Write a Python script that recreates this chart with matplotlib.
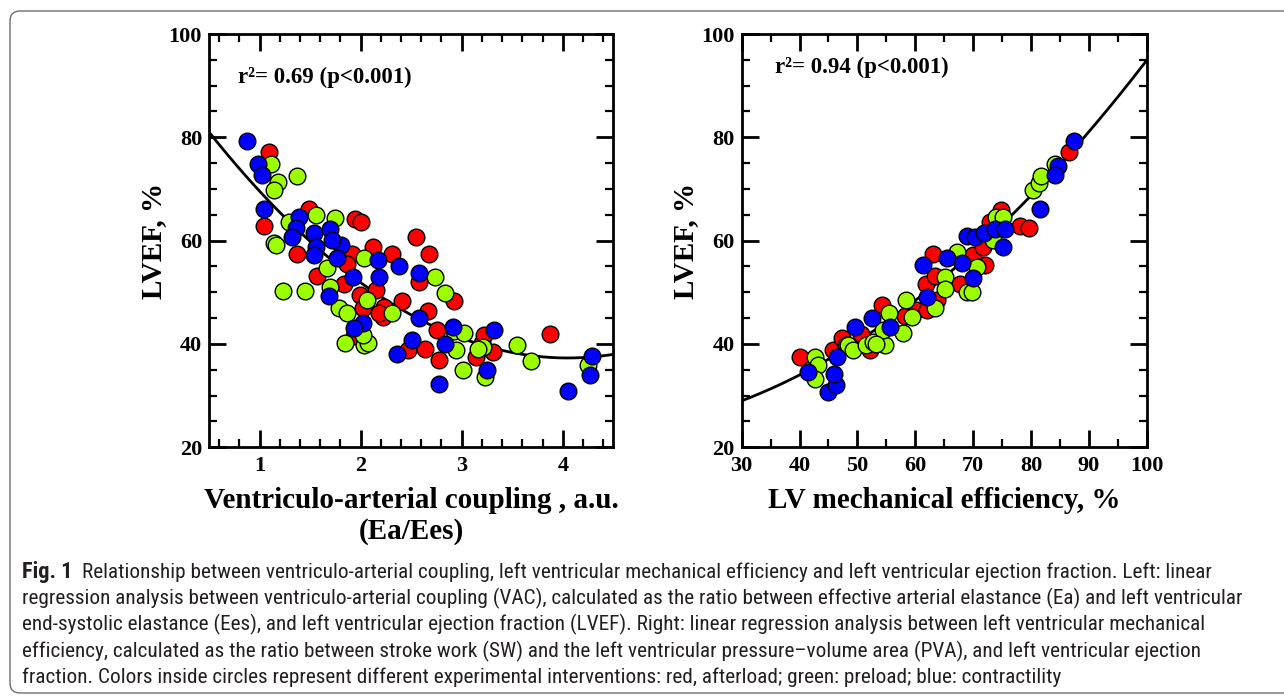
import numpy as np
import matplotlib
matplotlib.use("Agg")
import matplotlib.pyplot as plt
from matplotlib.patches import FancyBboxPatch
from matplotlib.ticker import MultipleLocator
from matplotlib.transforms import IdentityTransform

# --- left panel: ventriculo-arterial coupling (Ea/Ees) vs LVEF ---
vac_red_x = [1.09, 1.045, 1.49, 1.37, 1.94, 2.00, 1.91, 2.12, 2.31, 2.55, 2.68, 1.57, 1.84, 2.15, 2.58, 2.92, 1.99,
             2.02, 2.41, 2.22, 2.23, 2.67, 2.76, 2.47, 2.64, 2.78, 3.14, 3.31, 3.20, 3.22, 3.87, 1.93, 1.87, 2.18]
vac_red_y = [77.2, 62.8, 66.2, 57.4, 64.1, 63.6, 57.5, 58.8, 57.4, 60.7, 57.5, 53.1, 51.6, 50.4, 52.0, 48.4, 49.5,
             46.9, 48.4, 45.3, 47.2, 46.4, 42.8, 38.8, 39.0, 36.9, 37.5, 38.5, 40.2, 41.7, 42.0, 41.5, 55.5, 45.9]
vac_green_x = [1.11, 1.18, 1.14, 1.37, 1.14, 1.29, 1.56, 1.75, 2.03, 1.67, 2.74, 2.83, 1.23, 1.45, 1.70, 2.06, 1.79,
               1.87, 2.31, 1.85, 2.03, 2.07, 2.02, 2.92, 3.02, 2.94, 3.01, 3.21, 3.23, 3.16, 3.55, 3.69, 4.25, 1.16]
vac_green_y = [74.8, 71.3, 69.8, 72.5, 59.6, 63.6, 64.9, 64.3, 56.7, 54.8, 53.0, 49.9, 50.3, 50.3, 51.1, 48.5, 46.9,
               45.9, 45.9, 40.2, 39.8, 40.1, 41.7, 42.5, 42.2, 38.8, 35.0, 39.5, 33.7, 39.1, 39.8, 36.8, 35.9, 59.2]
vac_blue_x = [0.88, 0.98, 1.02, 1.045, 1.39, 1.36, 1.32, 1.54, 1.70, 1.56, 1.54, 1.81, 1.77, 2.17, 2.38, 1.92, 2.18,
              2.58, 1.69, 2.58, 2.02, 1.93, 2.91, 2.51, 2.36, 2.83, 2.78, 3.32, 3.25, 4.05, 4.29, 4.27, 1.72]
vac_blue_y = [79.3, 74.8, 72.8, 66.2, 64.5, 62.4, 60.7, 61.4, 62.2, 58.8, 57.2, 59.1, 56.6, 56.2, 55.1, 53.0, 53.0,
              53.7, 49.3, 45.0, 44.0, 43.0, 43.3, 40.8, 38.0, 39.9, 32.2, 42.7, 35.0, 30.9, 37.7, 34.0, 60.1]
vac_fit = [3.47, -28.11, 94.22]  # quadratic fit, highest power first

# --- right panel: LV mechanical efficiency vs LVEF ---
me_red_x = [40.1, 45.8, 47.3, 48.1, 50.7, 52.2, 54.2, 58.2, 60.2, 63.0, 61.9, 63.4, 63.7, 62.1, 67.2, 67.7, 70.0,
            72.0, 71.7, 72.9, 74.9, 78.1, 79.7, 86.6]
me_red_y = [37.5, 38.8, 41.1, 39.8, 42.0, 38.8, 47.5, 45.4, 46.6, 57.5, 51.7, 53.1, 48.5, 46.6, 56.9, 51.7, 57.3,
            55.3, 58.7, 63.6, 65.9, 62.8, 62.4, 77.1]
me_green_x = [42.7, 43.2, 42.7, 48.3, 49.3, 51.5, 52.7, 54.8, 54.5, 55.5, 58.4, 57.9, 59.4, 65.1, 65.1, 63.4, 67.2,
              68.9, 69.8, 70.7, 74.0, 75.2, 73.5, 80.3, 81.3, 81.8, 84.1, 53.2]
me_green_y = [37.5, 35.9, 33.3, 39.8, 38.8, 39.8, 40.4, 39.8, 42.7, 45.9, 48.6, 42.2, 45.3, 53.0, 50.6, 46.9, 57.8,
              50.1, 50.1, 54.9, 64.6, 64.6, 60.1, 69.8, 71.1, 72.5, 74.9, 40.0]
me_blue_x = [41.5, 45.0, 46.3, 46.0, 46.5, 49.6, 52.5, 55.6, 61.4, 62.0, 65.5, 68.0, 70.0, 68.9, 70.3, 71.8, 73.8,
             75.5, 75.2, 81.6, 84.7, 84.1, 87.4]
me_blue_y = [34.6, 30.8, 32.0, 34.2, 37.5, 43.3, 45.0, 43.3, 55.3, 49.1, 56.6, 55.6, 52.7, 60.9, 60.7, 61.4, 62.2,
             62.2, 58.8, 66.2, 74.4, 72.7, 79.2]
me_fit = [0.007357, -0.015, 22.83]

caption_lines = [
    "Relationship between ventriculo-arterial coupling, left ventricular mechanical efficiency and left ventricular ejection fraction. Left: linear",
    "regression analysis between ventriculo-arterial coupling (VAC), calculated as the ratio between effective arterial elastance (Ea) and left ventricular",
    "end-systolic elastance (Ees), and left ventricular ejection fraction (LVEF). Right: linear regression analysis between left ventricular mechanical",
    "efficiency, calculated as the ratio between stroke work (SW) and the left ventricular pressure\u2013volume area (PVA), and left ventricular ejection",
    "fraction. Colors inside circles represent different experimental interventions: red, afterload; green: preload; blue: contractility",
]

RED, GREEN, BLUE = "#ff0000", "#9cff00", "#0000ff"

plt.rcParams["font.family"] = "Liberation Serif"
plt.rcParams["font.weight"] = "bold"

W, H = 1284, 697
fig = plt.figure(figsize=(W / 100, H / 100), dpi=100)

# outer rounded frame
frame = FancyBboxPatch((10, 4), 1300, 682, boxstyle="round,pad=0,rounding_size=10",
                       transform=IdentityTransform(), fill=False, edgecolor="#6e6e6e", lw=1.0)
fig.patches.append(frame)

ax1 = fig.add_axes([209 / W, 1 - 447.3 / H, 404.3 / W, 413.3 / H])
ax2 = fig.add_axes([741.7 / W, 1 - 447.3 / H, 405 / W, 413.3 / H])


def style(ax):
    for sp in ax.spines.values():
        sp.set_linewidth(2.0)
    ax.tick_params(which="both", direction="in", top=True, right=True, labelsize=16)
    ax.tick_params(which="major", length=12, width=2.0)
    ax.tick_params(which="minor", length=6, width=1.6)
    ax.tick_params(axis="x", pad=6)
    ax.tick_params(axis="y", pad=5)
    ax.set_ylim(20, 100)
    ax.yaxis.set_major_locator(MultipleLocator(20))
    ax.yaxis.set_minor_locator(MultipleLocator(5))
    ax.set_ylabel("LVEF, %", fontsize=21, fontweight="bold")
    ax.yaxis.set_label_coords(-0.105, 0.5)


def dots(ax, x, y, c):
    ax.scatter(x, y, s=144, c=c, edgecolors="black", linewidths=1.0, zorder=3)


# left panel
style(ax1)
ax1.set_xlim(0.5, 4.5)
ax1.xaxis.set_major_locator(MultipleLocator(1))
ax1.xaxis.set_minor_locator(MultipleLocator(0.2))
xs = np.linspace(0.5, 4.5, 200)
ax1.plot(xs, np.polyval(vac_fit, xs), color="black", lw=2.0, zorder=2)
dots(ax1, vac_red_x, vac_red_y, RED)
dots(ax1, vac_green_x, vac_green_y, GREEN)
dots(ax1, vac_blue_x, vac_blue_y, BLUE)
ax1.set_xlabel("Ventriculo-arterial coupling , a.u.\n(Ea/Ees)", fontsize=21, fontweight="bold", linespacing=1.2)
ax1.xaxis.set_label_coords(0.5, -0.095)
ax1.text(0.072, 0.896, "r\u00b2= 0.69 (p<0.001)", transform=ax1.transAxes, fontsize=16.5,
         fontweight="bold", va="center", ha="left")

# right panel
style(ax2)
ax2.set_xlim(30, 100)
ax2.xaxis.set_major_locator(MultipleLocator(10))
ax2.xaxis.set_minor_locator(MultipleLocator(5))
xs = np.linspace(30, 100, 200)
ax2.plot(xs, np.polyval(me_fit, xs), color="black", lw=2.0, zorder=2)
dots(ax2, me_red_x, me_red_y, RED)
dots(ax2, me_green_x, me_green_y, GREEN)
dots(ax2, me_blue_x, me_blue_y, BLUE)
ax2.set_xlabel("LV mechanical efficiency, %", fontsize=21, fontweight="bold")
ax2.xaxis.set_label_coords(0.5, -0.095)
ax2.text(0.082, 0.918, "r\u00b2= 0.94 (p<0.001)", transform=ax2.transAxes, fontsize=16.5,
         fontweight="bold", va="center", ha="left")

# caption, sized so the longest line spans the frame like the original
cap_font = ["Liberation Sans Narrow", "Roboto Condensed", "Roboto", "DejaVu Sans"]
cap_color = "#231f20"
line_y = [572, 598, 624, 651, 677]
fs = 14
renderer = fig.canvas.get_renderer()
probe = fig.text(0, 0, caption_lines[1], family=cap_font, fontsize=fs, fontweight="normal")
wid = probe.get_window_extent(renderer).width
probe.remove()
fs = fs * (1250 - 22) / wid

lab = fig.text(22 / W, 1 - line_y[0] / H, "Fig. 1", family=cap_font, fontsize=fs * 1.05, fontweight="bold",
               color=cap_color, va="center", ha="left")
lab_w = lab.get_window_extent(renderer).width
fig.text((22 + lab_w + 0.6 * fs) / W, 1 - line_y[0] / H, caption_lines[0], family=cap_font, fontsize=fs,
         fontweight="normal", color=cap_color, va="center", ha="left")
for txt, yy in zip(caption_lines[1:], line_y[1:]):
    fig.text(22 / W, 1 - yy / H, txt, family=cap_font, fontsize=fs, fontweight="normal",
             color=cap_color, va="center", ha="left")

fig.savefig("out.png", dpi=100)
